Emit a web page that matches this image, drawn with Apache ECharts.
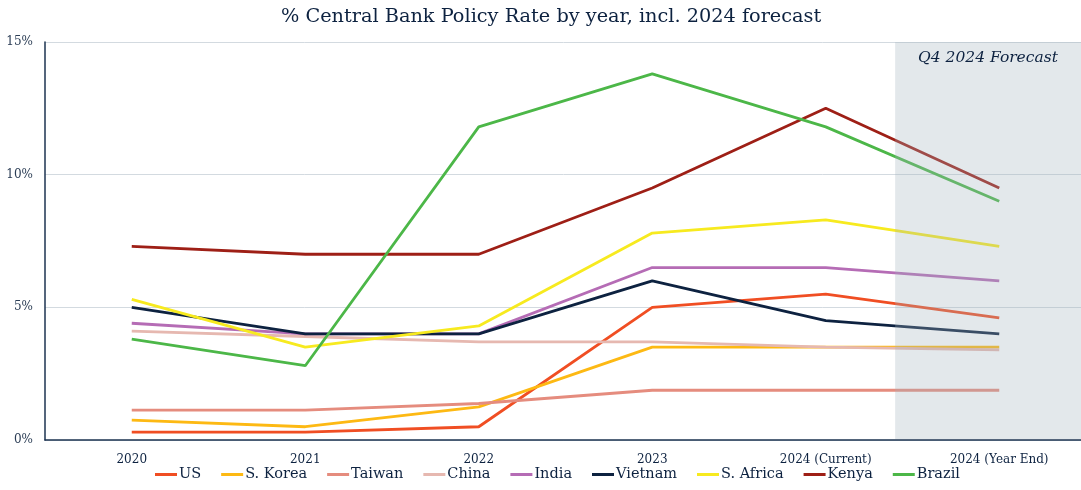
<!DOCTYPE html>
<html>
<head>
<meta charset="utf-8">
<script src="https://cdn.jsdelivr.net/npm/echarts@6/dist/echarts.min.js"></script>
<style>html,body{margin:0;padding:0;background:#fff}#c{width:1081px;height:490px}</style>
</head>
<body>
<div id="c"></div>
<script>
const categories = ['2020', '2021', '2022', '2023', '2024 (Current)', '2024 (Year End)'];
const yTicks = [0, 5, 10, 15];
const US = [0.3, 0.3, 0.5, 5.0, 5.5, 4.6];
const SKorea = [0.75, 0.5, 1.25, 3.5, 3.5, 3.5];
const Taiwan = [1.125, 1.125, 1.375, 1.875, 1.875, 1.875];
const China = [4.1, 3.9, 3.7, 3.7, 3.5, 3.4];
const India = [4.4, 4.0, 4.0, 6.5, 6.5, 6.0];
const Vietnam = [5.0, 4.0, 4.0, 6.0, 4.5, 4.0];
const SAfrica = [5.3, 3.5, 4.3, 7.8, 8.3, 7.3];
const Kenya = [7.3, 7.0, 7.0, 9.5, 12.5, 9.5];
const Brazil = [3.8, 2.8, 11.8, 13.8, 11.8, 9.0];

const seriesDefs = [
  ['US', US, '#f04e23'],
  ['S. Korea', SKorea, '#fdb913'],
  ['Taiwan', Taiwan, '#e58c7e'],
  ['China', China, '#e6b8b0'],
  ['India', India, '#b56cb5'],
  ['Vietnam', Vietnam, '#0d2240'],
  ['S. Africa', SAfrica, '#f7ea1f'],
  ['Kenya', Kenya, '#9e1f16'],
  ['Brazil', Brazil, '#4cb748']
];
const navy = '#0d2240';
const serif = '"DejaVu Serif", "Liberation Serif", serif';

const chart = echarts.init(document.getElementById('c'));
chart.setOption({
  animation: false,
  title: {
    text: '% Central Bank Policy Rate by year, incl. 2024 forecast',
    left: 276, top: 2,
    textStyle: { fontFamily: serif, fontSize: 19.3, fontWeight: 'normal', color: navy }
  },
  legend: {
    bottom: 3, left: 150,
    itemWidth: 22, itemHeight: 3, itemGap: 20,
    icon: 'rect',
    textStyle: { fontFamily: serif, fontSize: 14.5, color: navy, padding: [0, 0, 0, -3] },
    data: seriesDefs.map(d => d[0])
  },
  grid: { left: 45, width: 1041, top: 42, bottom: 50, outerBoundsMode: 'none', containLabel: false },
  xAxis: {
    type: 'category', data: categories, boundaryGap: true,
    axisLine: { lineStyle: { color: '#1c3350', width: 1.5 } },
    axisTick: { show: false },
    axisLabel: { fontFamily: serif, fontSize: 12, color: navy, margin: 14 }
  },
  yAxis: {
    type: 'value', min: 0, max: 15, interval: 5,
    axisLine: { show: true, lineStyle: { color: '#1c3350', width: 1.5 } },
    axisTick: { show: false },
    splitLine: { lineStyle: { color: '#d3dae0', width: 1 } },
    axisLabel: { fontFamily: serif, fontSize: 12, color: '#2b3d55', margin: 12,
      formatter: v => yTicks.includes(v) ? v + '%' : '' }
  },
  series: seriesDefs.map(d => ({
    name: d[0], type: 'line', data: d[1], showSymbol: false, symbol: 'none',
    lineStyle: { width: 2.8, color: d[2] }, itemStyle: { color: d[2] }
  }))
});

const xCur = chart.convertToPixel({ xAxisIndex: 0 }, categories[4]);
const xEnd = chart.convertToPixel({ xAxisIndex: 0 }, categories[5]);
const yTop = chart.convertToPixel({ yAxisIndex: 0 }, 15);
const yBot = chart.convertToPixel({ yAxisIndex: 0 }, 0);
const x0 = xCur + 0.4 * (xEnd - xCur);
const W = chart.getWidth();
chart.setOption({
  graphic: [
    { type: 'rect', z: 100, silent: true,
      shape: { x: x0, y: yTop, width: W - x0, height: yBot - yTop - 1 },
      style: { fill: 'rgba(163,180,190,0.3)' } },
    { type: 'text', z: 101, silent: true,
      x: 988, y: yTop + 16,
      style: { text: 'Q4 2024 Forecast', font: 'italic 15.5px "DejaVu Serif", serif', fill: navy,
        align: 'center', verticalAlign: 'middle' } }
  ]
});
</script>
</body>
</html>
